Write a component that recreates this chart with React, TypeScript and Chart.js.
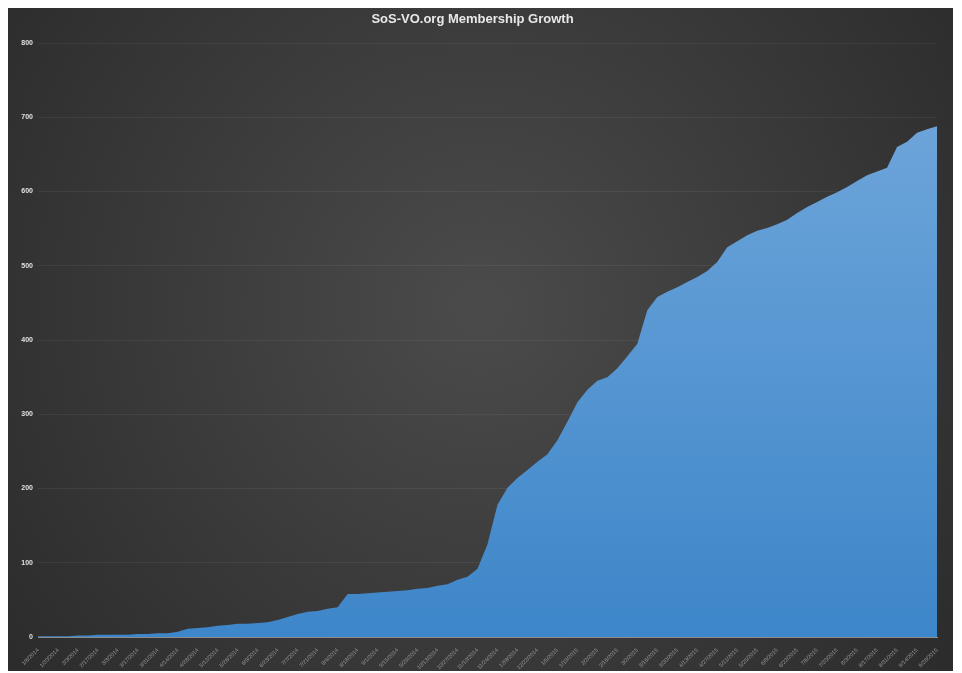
import React, { useEffect, useRef } from "react";
import { Chart, registerables } from "chart.js";

Chart.register(...registerables);

const chartTitle = "SoS-VO.org Membership Growth";

// Weekly snapshot dates
const dates: string[] = [
  "1/6/2014", "1/13/2014", "1/20/2014", "1/27/2014", "2/3/2014", "2/10/2014", "2/17/2014", "2/24/2014",
  "3/3/2014", "3/10/2014", "3/17/2014", "3/24/2014", "3/31/2014", "4/7/2014", "4/14/2014", "4/21/2014",
  "4/28/2014", "5/5/2014", "5/12/2014", "5/19/2014", "5/26/2014", "6/2/2014", "6/9/2014", "6/16/2014",
  "6/23/2014", "6/30/2014", "7/7/2014", "7/14/2014", "7/21/2014", "7/28/2014", "8/4/2014", "8/11/2014",
  "8/18/2014", "8/25/2014", "9/1/2014", "9/8/2014", "9/15/2014", "9/22/2014", "9/29/2014", "10/6/2014",
  "10/13/2014", "10/20/2014", "10/27/2014", "11/3/2014", "11/10/2014", "11/17/2014", "11/24/2014", "12/1/2014",
  "12/8/2014", "12/15/2014", "12/22/2014", "12/29/2014", "1/5/2015", "1/12/2015", "1/19/2015", "1/26/2015",
  "2/2/2015", "2/9/2015", "2/16/2015", "2/23/2015", "3/2/2015", "3/9/2015", "3/16/2015", "3/23/2015",
  "3/30/2015", "4/6/2015", "4/13/2015", "4/20/2015", "4/27/2015", "5/4/2015", "5/11/2015", "5/18/2015",
  "5/25/2015", "6/1/2015", "6/8/2015", "6/15/2015", "6/22/2015", "6/29/2015", "7/6/2015", "7/13/2015",
  "7/20/2015", "7/27/2015", "8/3/2015", "8/10/2015", "8/17/2015", "8/24/2015", "8/31/2015", "9/7/2015",
  "9/14/2015", "9/21/2015", "9/28/2015",
];

// Total members at each date
const members: number[] = [
  1, 1, 1, 1, 2, 2, 3, 3, 3, 3,
  4, 4, 5, 5, 7, 11, 12, 13, 15, 16,
  18, 18, 19, 20, 23, 27, 31, 34, 35, 38,
  40, 58, 58, 59, 60, 61, 62, 63, 65, 66,
  69, 71, 77, 81, 92, 125, 178, 201, 214, 225,
  236, 246, 265, 290, 316, 333, 345, 350, 362, 378,
  395, 440, 458, 465, 471, 478, 485, 493, 505, 525,
  533, 541, 547, 551, 556, 562, 571, 579, 586, 593,
  599, 606, 614, 622, 627, 632, 660, 667, 679, 684,
  688,
];

const yTicks: number[] = [0, 100, 200, 300, 400, 500, 600, 700, 800];

// Dark radial backdrop behind the whole chart
const backdrop = {
  id: "backdrop",
  beforeDraw(chart: Chart) {
    const { ctx, width, height } = chart;
    const g = ctx.createRadialGradient(width * 0.5, height * 0.45, 20, width * 0.5, height * 0.45, width * 0.62);
    g.addColorStop(0, "#4a4a4a");
    g.addColorStop(1, "#2c2c2c");
    ctx.save();
    ctx.fillStyle = g;
    ctx.fillRect(0, 0, width, height);
    ctx.restore();
  },
};

export default function App() {
  const ref = useRef<HTMLCanvasElement | null>(null);

  useEffect(() => {
    if (!ref.current) return;
    const chart = new Chart(ref.current, {
      type: "line",
      data: {
        labels: dates,
        datasets: [
          {
            label: "Members",
            data: members,
            fill: "origin",
            tension: 0,
            pointRadius: 0,
            borderWidth: 0,
            borderColor: "#4a8dd0",
            backgroundColor: (ctx: any) => {
              const area = ctx.chart.chartArea;
              if (!area) return "#4a8dd0";
              const g = ctx.chart.ctx.createLinearGradient(0, area.top, 0, area.bottom);
              g.addColorStop(0, "#74a9dc");
              g.addColorStop(1, "#3d86c9");
              return g;
            },
          },
        ],
      },
      options: {
        responsive: false,
        animation: false,
        layout: { padding: { left: 0, right: 16, top: 0, bottom: 0 } },
        plugins: {
          legend: { display: false },
          tooltip: { enabled: false },
          title: {
            display: true,
            text: chartTitle,
            color: "#e8e8e8",
            font: { family: "Liberation Sans", size: 13, weight: "bold" },
            padding: { top: 5, bottom: 15.4 },
          },
        },
        scales: {
          x: {
            type: "category",
            offset: false,
            grid: { display: false },
            border: { display: true, color: "#8c8c8c", width: 1 },
            ticks: {
              autoSkip: false,
              maxRotation: 45,
              minRotation: 45,
              color: "#9a9a9a",
              font: { family: "Liberation Sans", size: 5.5 },
              padding: 2,
              callback: (_v: any, i: number) => (i % 2 === 0 ? dates[i] : ""),
            },
            afterFit: (s: any) => {
              s.height = 34;
            },
          },
          y: {
            min: 0,
            max: 800,
            afterBuildTicks: (s: any) => {
              s.ticks = yTicks.map((v) => ({ value: v }));
            },
            grid: { color: "rgba(255,255,255,0.06)", drawTicks: false },
            border: { display: false },
            ticks: {
              color: "#e0e0e0",
              font: { family: "Liberation Sans", size: 7, weight: "bold" },
              padding: 5,
            },
            afterFit: (s: any) => {
              s.width = 30;
            },
          },
        },
      },
      plugins: [backdrop],
    });
    return () => chart.destroy();
  }, []);

  return (
    <div style={{ marginTop: -1 }}>
      <canvas ref={ref} width={945} height={664} style={{ display: "block" }} />
    </div>
  );
}
